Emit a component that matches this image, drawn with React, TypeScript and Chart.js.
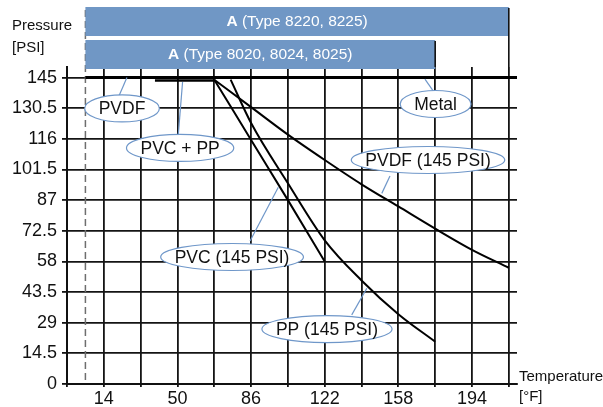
import { useEffect, useRef } from 'react';
import { Chart, registerables } from 'chart.js';

Chart.register(...registerables);

// ---- axis ticks ----
const xTicks = [-4, 14, 32, 50, 68, 86, 104, 122, 140, 158, 176, 194, 212];
const xTickLabels = [14, 50, 86, 122, 158, 194];
const yTicks = [0, 14.5, 29, 43.5, 58, 72.5, 87, 101.5, 116, 130.5, 145];

// ---- curves (temperature °F, pressure PSI) ----
const pvcTemps = [68, 86, 104, 122];
const pvcPress = [144, 115.5, 87, 58];
const ppTemps = [76, 86, 104, 122, 140, 158, 176];
const ppPress = [144, 123.5, 95, 68, 49, 33, 20];
const pvdfTemps = [68, 86, 104, 122, 140, 158, 176, 194, 212];
const pvdfPress = [144, 131, 118, 106, 94.5, 84, 73.5, 63.5, 55];
const metalTemps = [5, 216];
const metalPress = [145, 145];
const pvcPpTemps = [39, 68];
const pvcPpPress = [143.6, 143.6];

// ---- minimum temperature (dashed) ----
const minTemp = 5;

// ---- bands above chart ----
const bandBold = ['A', 'A'];
const bandRest = [' (Type 8220, 8225)', ' (Type 8020, 8024, 8025)'];
const bandStart = [5, 5];
const bandEnd = [212, 176];

// ---- callouts ----
const calloutText = ['PVDF', 'PVC + PP', 'Metal', 'PVDF (145 PSI)', 'PVC (145 PSI)', 'PP (145 PSI)'];
const calloutTemp = [22.9, 51.3, 176.2, 172.5, 76.7, 123.1];
const calloutPress = [130.4, 111.7, 132.5, 106, 60.1, 26];
const leaderFromTemp = [25.3, 52.5, 171, 153.9, 99.3, 142.6];
const leaderFromPress = [145, 142.9, 144.3, 98.4, 93.1, 45.3];
const leaderToTemp = [21.4, 50.4, 175, 149.9, 85.5, 135.2];
const leaderToPress = [136.3, 117.8, 138.7, 90.2, 67.7, 32.7];

const FONT = '"Liberation Sans", Arial, Helvetica, sans-serif';
const BLUE = '#7097c5';
const CALLOUT = '#6f97c9';

const mk = (t: number[], p: number[]) => t.map((v, i) => ({ x: v, y: p[i] }));

const overlay = {
  id: 'overlay',
  beforeDatasetsDraw(chart: any) {
    const { ctx, chartArea, scales } = chart;
    const x = scales.x;
    ctx.save();
    // dashed min-temperature line
    ctx.strokeStyle = '#6e6e6e';
    ctx.lineWidth = 1.5;
    ctx.setLineDash([7, 4]);
    const dx = x.getPixelForValue(minTemp);
    ctx.beginPath();
    ctx.moveTo(dx, 10);
    ctx.lineTo(dx, chartArea.bottom);
    ctx.stroke();
    ctx.setLineDash([]);

    // bands
    for (let i = 0; i < bandBold.length; i++) {
      const top = 7 + i * 33;
      const h = 29;
      const x0 = x.getPixelForValue(bandStart[i]);
      const x1 = x.getPixelForValue(bandEnd[i]);
      ctx.fillStyle = BLUE;
      ctx.fillRect(x0, top, x1 - x0, h);
      ctx.strokeStyle = '#111';
      ctx.lineWidth = 1.6;
      ctx.beginPath();
      ctx.moveTo(x1, top + 1);
      ctx.lineTo(x1, chartArea.top);
      ctx.stroke();
      ctx.font = `bold 15.5px ${FONT}`;
      const wb = ctx.measureText(bandBold[i]).width;
      ctx.font = `15.5px ${FONT}`;
      const wr = ctx.measureText(bandRest[i]).width;
      const sx = (x0 + x1) / 2 - (wb + wr) / 2;
      ctx.fillStyle = '#fff';
      ctx.textBaseline = 'middle';
      ctx.textAlign = 'left';
      ctx.font = `bold 15.5px ${FONT}`;
      ctx.fillText(bandBold[i], sx, top + h / 2 + 0.5);
      ctx.font = `15.5px ${FONT}`;
      ctx.fillText(bandRest[i], sx + wb, top + h / 2 + 0.5);
    }

    // axis titles
    ctx.fillStyle = '#111';
    ctx.font = `15px ${FONT}`;
    ctx.textAlign = 'left';
    ctx.textBaseline = 'middle';
    ctx.fillText('Pressure', 12, 26);
    ctx.fillText('[PSI]', 12, 48);
    ctx.fillText('Temperature', chartArea.right + 2, 377);
    ctx.fillText('[°F]', chartArea.right + 2, 397);
    ctx.restore();
  },
  afterDatasetsDraw(chart: any) {
    const { ctx, scales } = chart;
    const x = scales.x;
    const y = scales.y;
    ctx.save();
    ctx.font = `17.5px ${FONT}`;
    for (let i = 0; i < calloutText.length; i++) {
      ctx.strokeStyle = CALLOUT;
      ctx.lineWidth = 1.2;
      ctx.beginPath();
      ctx.moveTo(x.getPixelForValue(leaderFromTemp[i]), y.getPixelForValue(leaderFromPress[i]));
      ctx.lineTo(x.getPixelForValue(leaderToTemp[i]), y.getPixelForValue(leaderToPress[i]));
      ctx.stroke();
    }
    for (let i = 0; i < calloutText.length; i++) {
      const cx = x.getPixelForValue(calloutTemp[i]);
      const cy = y.getPixelForValue(calloutPress[i]);
      const w = ctx.measureText(calloutText[i]).width;
      const rx = w / 2 + 14;
      const ry = 13.5;
      ctx.beginPath();
      ctx.ellipse(cx, cy, rx, ry, 0, 0, Math.PI * 2);
      ctx.fillStyle = '#fff';
      ctx.fill();
      ctx.strokeStyle = CALLOUT;
      ctx.lineWidth = 1.2;
      ctx.stroke();
      ctx.fillStyle = '#111';
      ctx.textAlign = 'center';
      ctx.textBaseline = 'middle';
      ctx.fillText(calloutText[i], cx, cy + 1);
    }
    ctx.restore();
  },
};

export default function App() {
  const ref = useRef<HTMLCanvasElement>(null);
  useEffect(() => {
    if (!ref.current) return;
    const line = (data: any, width: number, curve: boolean) => ({
      data,
      showLine: true,
      borderColor: '#000',
      backgroundColor: '#000',
      borderWidth: width,
      pointRadius: 0,
      tension: curve ? 0.4 : 0,
      cubicInterpolationMode: curve ? 'monotone' : 'default',
    });
    const chart = new Chart(ref.current, {
      type: 'scatter',
      data: {
        datasets: [
          line(mk(pvcTemps, pvcPress), 2, true),
          line(mk(ppTemps, ppPress), 2, true),
          line(mk(pvdfTemps, pvdfPress), 2, true),
          line(mk(metalTemps, metalPress), 3, false),
          line(mk(pvcPpTemps, pvcPpPress), 2.5, false),
        ] as any,
      },
      options: {
        animation: false,
        responsive: false,
        devicePixelRatio: 1,
        events: [],
        layout: { padding: { top: 67, right: 86, bottom: 0, left: 0 } },
        plugins: { legend: { display: false }, tooltip: { enabled: false } },
        scales: {
          x: {
            type: 'linear',
            min: -4,
            max: 216,
            afterBuildTicks: (s: any) => {
              s.ticks = xTicks.map((v) => ({ value: v }));
            },
            afterFit: (s: any) => {
              s.height = 23;
            },
            ticks: {
              autoSkip: false,
              maxRotation: 0,
              padding: 1,
              color: '#111',
              font: { family: FONT, size: 18 },
              callback: (v: any) => (xTickLabels.includes(Number(v)) ? String(v) : ''),
            },
            grid: { color: '#141414', lineWidth: 1.8, tickLength: 3 },
            border: { display: true, color: '#111', width: 2 },
          },
          y: {
            type: 'linear',
            min: 0,
            max: 150,
            afterBuildTicks: (s: any) => {
              s.ticks = yTicks.map((v) => ({ value: v }));
            },
            afterFit: (s: any) => {
              s.width = 67;
            },
            ticks: {
              autoSkip: false,
              padding: 5,
              color: '#111',
              font: { family: FONT, size: 18 },
              callback: (v: any) => String(v),
            },
            grid: { color: '#141414', lineWidth: 1.8, tickLength: 5 },
            border: { display: true, color: '#111', width: 2 },
          },
        },
      },
      plugins: [overlay],
    });
    return () => chart.destroy();
  }, []);
  return (
    <div style={{ position: 'absolute', left: 0, top: 0, width: 603, height: 407, background: '#fff' }}>
      <canvas ref={ref} width={603} height={407} />
    </div>
  );
}
